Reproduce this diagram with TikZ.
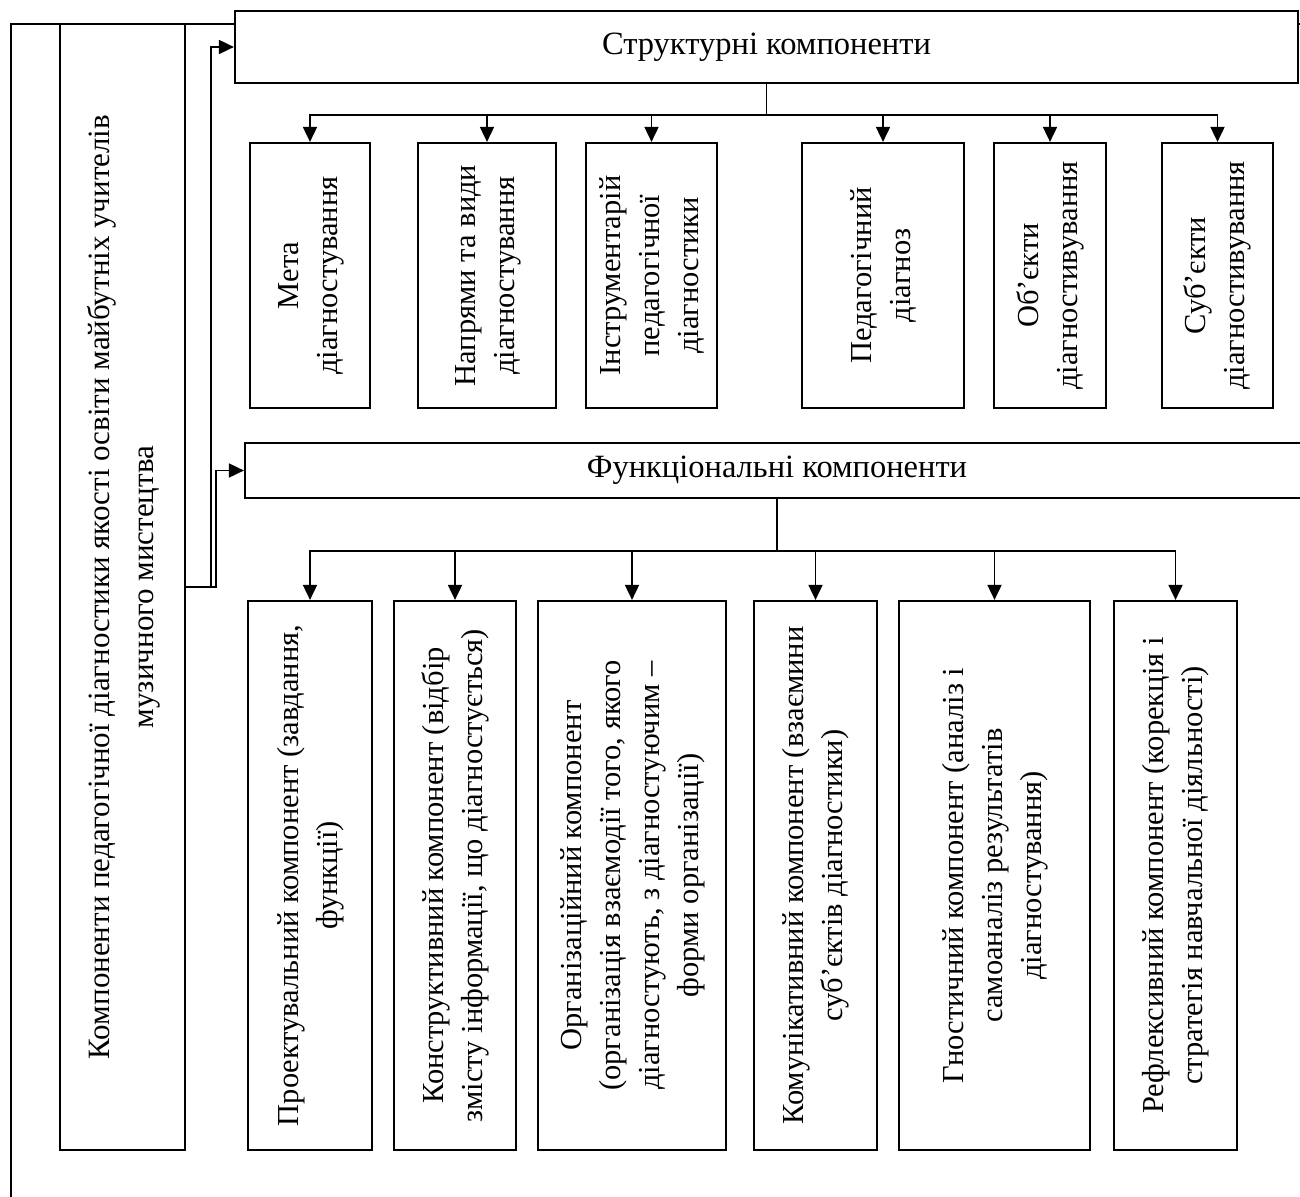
\documentclass[tikz,border=0pt]{standalone}
\usepackage{fontspec}
\setmainfont{Liberation Serif}
\usepackage{graphicx}
\usetikzlibrary{arrows.meta}
\newcommand{\vtext}[1]{\rotatebox{90}{\begin{tabular}{@{}c@{}}#1\end{tabular}}}

\begin{document}
\begin{tikzpicture}[x=1pt,y=-1pt]
\tikzstyle{every node}+=[inner sep=0pt]
\tikzstyle{box}=[draw, rectangle, fill=white, line width=2.2pt, font=\fontsize{30.5}{39}\selectfont]
\tikzstyle{title}=[box, font=\fontsize{32.5}{39}\selectfont]
\tikzstyle{arr}=[line width=1.8pt, -{Triangle[length=15pt,width=14pt]}]
\useasboundingbox (0,0) rectangle (1300,1196);
\draw [line width=2.5pt] (11,1205) -- (11,24) -- (1310,24);
\node [box, line width=1.5pt, font=\fontsize{31}{44}\selectfont, minimum width=125pt, minimum height=1126pt] (main) at (122.5,587) {\vtext{Компоненти педагогічної діагностики якості освіти майбутніх учителів\\музичного мистецтва}};
\node [title, minimum width=1063pt, minimum height=72pt] (struct) at (766.5,47) {Структурні компоненти};
\node [title, minimum width=1064pt, minimum height=55pt] (func) at (777,470.5) {Функціональні компоненти};
\node [box, minimum width=120pt, minimum height=265pt] (meta) at (310,275.5) {\vtext{Мета\\діагностування}};
\node [box, minimum width=138pt, minimum height=265pt] (napr) at (487,275.5) {\vtext{Напрями та види\\діагностування}};
\node [box, minimum width=131pt, minimum height=265pt] (instr) at (651.5,275.5) {\vtext{Інструментарій\\педагогічної\\діагностики}};
\node [box, minimum width=162pt, minimum height=265pt] (diagnoz) at (883,275.5) {\vtext{Педагогічний\\діагноз}};
\node [box, minimum width=112pt, minimum height=265pt] (obj) at (1050,275.5) {\vtext{Об’єкти\\діагностивування}};
\node [box, minimum width=111pt, minimum height=265pt] (subj) at (1217.5,275.5) {\vtext{Суб’єкти\\діагностивування}};
\node [box, minimum width=124pt, minimum height=549pt] (proekt) at (310,875.5) {\vtext{Проектувальний компонент (завдання,\\функції)}};
\node [box, minimum width=122pt, minimum height=549pt] (konstr) at (455,875.5) {\vtext{Конструктивний компонент (відбір\\змісту інформації, що діагностується)}};
\node [box, minimum width=188pt, minimum height=549pt] (org) at (632,875.5) {\vtext{Організаційний компонент\\(організація взаємодії того, якого\\діагностують, з діагностуючим –\\форми організації)}};
\node [box, minimum width=123pt, minimum height=549pt] (komun) at (815.5,875.5) {\vtext{Комунікативний компонент (взаємини\\суб’єктів діагностики)}};
\node [box, minimum width=191pt, minimum height=549pt] (gnost) at (994.5,875.5) {\vtext{Гностичний компонент (аналіз і\\самоаналіз результатів\\діагностування)}};
\node [box, minimum width=123pt, minimum height=549pt] (refl) at (1175.5,875.5) {\vtext{Рефлексивний компонент (корекція і\\стратегія навчальної діяльності)}};
\draw [arr] (main.east) -- ++(25,0) |- (struct.west);
\draw [arr] (main.east) -- ++(30,0) |- (func.west);
\draw [line width=1.8pt] (struct.south) -- ++(0,31) coordinate (sfork);
\foreach \n in {meta,napr,instr,diagnoz,obj,subj}
  \draw [arr] (sfork) -| (\n.north);
\draw [line width=1.8pt] (func.south) -- ++(0,52) coordinate (ffork);
\foreach \n in {proekt,konstr,org,komun,gnost,refl}
  \draw [arr] (ffork) -| (\n.north);
\end{tikzpicture}
\end{document}
